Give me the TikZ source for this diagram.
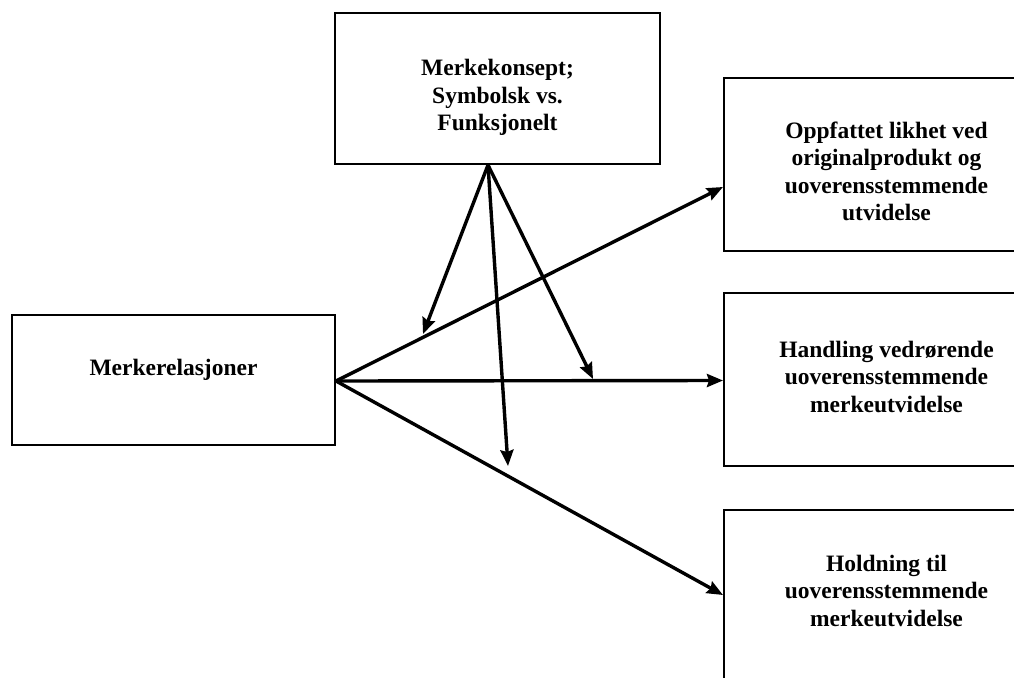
\documentclass[tikz,border=0pt]{standalone}
\usepackage{fontspec}
\setmainfont{Liberation Serif}
\usetikzlibrary{arrows.meta,calc}
\begin{document}
\begin{tikzpicture}[x=1pt,y=1pt,
  box/.style={draw=black,line width=2pt,rectangle,inner sep=0pt},
  txt/.style={font=\fontsize{23.5}{27.5}\selectfont\bfseries,align=center,text=black},
  conn/.style={line width=3.4pt,-{Stealth[length=16pt,width=13pt,inset=2pt]}}]
\useasboundingbox (0,0) rectangle (1014,-677);
\clip (0,0) rectangle (1014,-677);
% boxes
\node[box,minimum width=323,minimum height=130] (lb) at (173.5,-380) {};
\node[box,minimum width=325,minimum height=151] (tb) at (497.5,-88.5) {};
\node[box,minimum width=325,minimum height=173] (b1) at (886.5,-164.5) {};
\node[box,minimum width=325,minimum height=173] (b2) at (886.5,-379.5) {};
\node[box,minimum width=325,minimum height=173] (b3) at (886.5,-596.5) {};
% texts
\node[txt] (tlb) at ($(lb.center)+(0,10)$) {Merkerelasjoner};
\node[txt] (ttb) at ($(tb.center)+(0,-9)$) {Merkekonsept;\\Symbolsk vs.\\Funksjonelt};
\node[txt] (tb1) at ($(b1.center)+(0,-7)$) {Oppfattet likhet ved\\originalprodukt og\\uoverensstemmende\\utvidelse};
\node[txt] (tb2) at ($(b2.center)+(0,3)$) {Handling vedrørende\\uoverensstemmende\\merkeutvidelse};
\node[txt] (tb3) at ($(b3.center)+(0,6)$) {Holdning til\\uoverensstemmende\\merkeutvidelse};
% connectors
\coordinate (src) at ($(lb.east)+(0,-1)$);
\coordinate (e1) at ($(b1.west)+(0,-22.5)$);
\coordinate (e2) at ($(b2.west)+(0,-1)$);
\coordinate (e3) at ($(b3.west)+(0,1.5)$);
\draw[conn] (src) -- (e1);
\draw[conn] (src) -- (e2);
\draw[conn] (src) -- (e3);
\coordinate (apex) at ($(tb.south)+(-9.5,0)$);
\coordinate (ta) at (423,-334);
\coordinate (tbb) at (593,-379);
\coordinate (tc) at (508,-466);
\draw[conn] (apex) -- (ta);
\draw[conn] (apex) -- (tbb);
\draw[conn] (apex) -- (tc);
\end{tikzpicture}
\end{document}
